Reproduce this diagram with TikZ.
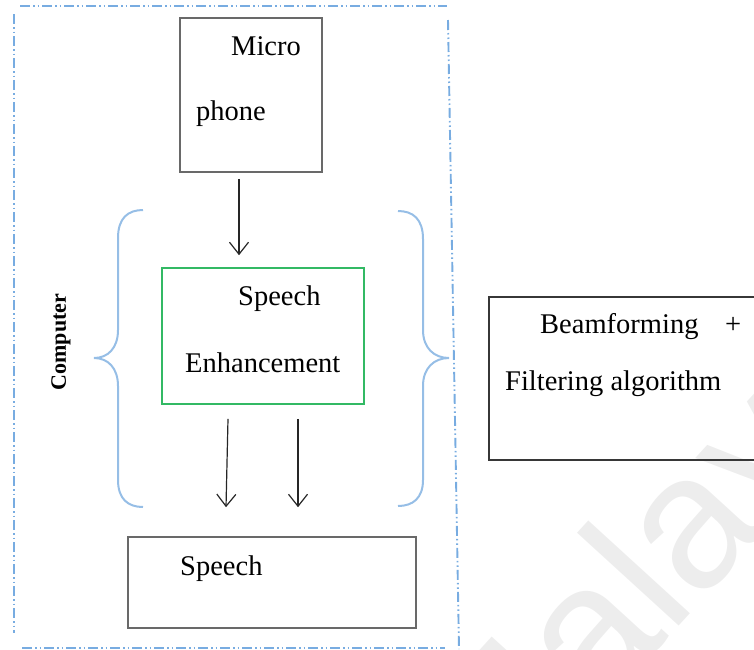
\documentclass[tikz,border=0pt]{standalone}
\usepackage{fontspec}
\setmainfont{Liberation Serif}
\newfontfamily\wmfont{Liberation Sans}
\usetikzlibrary{arrows.meta}
\definecolor{frameblue}{RGB}{120,172,225}
\definecolor{braceblue}{RGB}{150,190,230}
\definecolor{boxgreen}{RGB}{50,185,100}
\definecolor{boxgray}{RGB}{105,105,105}
\definecolor{boxdark}{RGB}{55,55,55}
\definecolor{markgray}{RGB}{237,237,237}

\begin{document}
\begin{tikzpicture}[x=1pt,y=-1pt,
  blockbox/.style={draw=boxgray,line width=1.6pt,inner sep=0pt},
  greenbox/.style={draw=boxgreen,line width=1.6pt,inner sep=0pt},
  darkbox/.style={draw=boxdark,line width=2pt,inner sep=0pt},
  lbl/.style={anchor=base west,inner sep=0pt,font=\fontsize{28.5}{34}\selectfont},
  arr/.style={-{Straight Barb[length=12pt,width=19pt]},line width=1.2pt,draw=black!85},
  brace/.style={draw=braceblue,line width=2pt},
  frame/.style={draw=frameblue,line width=1.9pt,
    dash pattern=on 10pt off 3pt on 1.5pt off 3pt on 1.5pt off 3pt}]

\useasboundingbox (0,0) rectangle (754,649);
\clip (0,0) rectangle (754,649);

% faint watermark lettering behind everything
\node[rotate=47.6,anchor=base west,inner sep=0pt,text=markgray,
      font=\wmfont\fontsize{190}{190}\selectfont] (wm) at (492,831) {Malaya};

% dash-dot-dot frame around the computer part
\draw[frame] (20,6) -- (447,6);
\draw[frame] (14,14) -- (14,633);
\draw[frame] (22,648) -- (445,648);
\draw[frame] (448,20) -- (459,649);

% blocks
\node[blockbox,minimum width=142pt,minimum height=154pt] (mic) at (251,95) {};
\node[greenbox,minimum width=202pt,minimum height=136pt] (enh) at (263,336) {};
\node[blockbox,minimum width=288pt,minimum height=91pt] (out) at (272,582.5) {};
\node[darkbox,minimum width=311pt,minimum height=163pt] (algo) at (644.5,378.5) {};

% block texts
\node[lbl] (micA) at (231,55) {Micro};
\node[lbl] (micB) at (196,120) {phone};
\node[lbl] (enhA) at (238,305) {Speech};
\node[lbl] (enhB) at (185,372) {Enhancement};
\node[lbl] (outA) at (180,575) {Speech};
\node[lbl] (algA) at (540,333) {Beamforming};
\node[lbl] (algP) at (725,333) {+};
\node[lbl] (algB) at (505,390) {Filtering algorithm};

\node[rotate=90,inner sep=0pt,font=\bfseries\fontsize{22}{26}\selectfont] (comp) at (61,342) {Computer};

% signal flow
\draw[arr] ([shift={(-12,6)}]mic.south) -- ([shift={(-24,-12)}]enh.north);
\draw[arr] ([shift={(-35,14)}]enh.south) -- ([shift={(-46,-29)}]out.north);
\draw[arr] ([shift={(35,14)}]enh.south) -- ([shift={(26,-29)}]out.north);

% curly braces around the enhancement stage
\draw[brace] (143,210) .. controls (128,210) and (118,218) .. (118,238)
  -- (118,330) .. controls (118,348) and (108,358) .. (94,358)
  .. controls (108,358) and (118,368) .. (118,386)
  -- (118,480) .. controls (118,499) and (128,507) .. (143,507);
\draw[brace] (398,211) .. controls (413,211) and (423,219) .. (423,239)
  -- (423,330) .. controls (423,348) and (434,358) .. (449,358)
  .. controls (434,358) and (423,368) .. (423,386)
  -- (423,480) .. controls (423,498) and (413,506) .. (398,506);
\end{tikzpicture}
\end{document}
